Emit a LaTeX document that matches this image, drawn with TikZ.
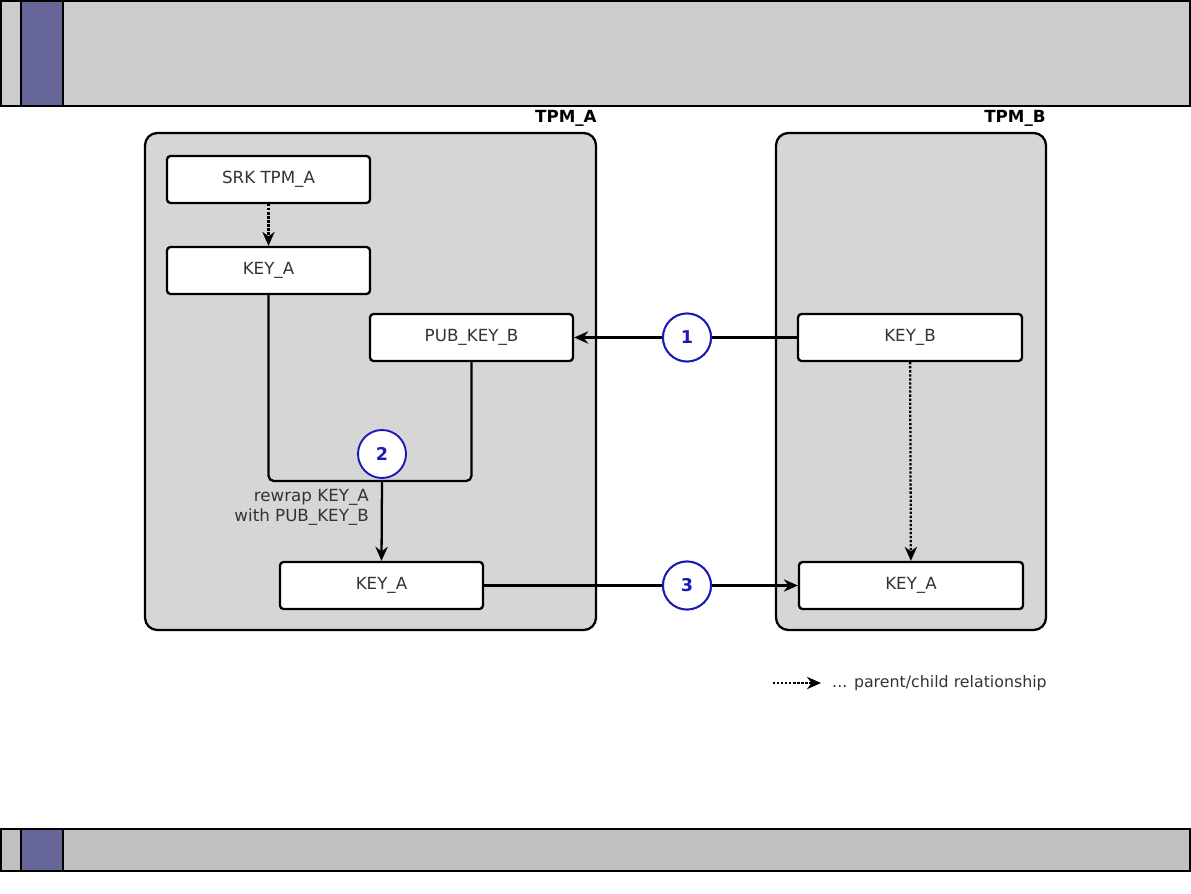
\documentclass[tikz,border=0pt]{standalone}
\usepackage{fontspec}
\setmainfont{DejaVu Sans}
\usepackage{xcolor}
\usetikzlibrary{positioning,arrows.meta}

\definecolor{barGray}{HTML}{CCCCCC}
\definecolor{footGray}{HTML}{C0C0C0}
\definecolor{barPurple}{HTML}{666699}
\definecolor{tpmGray}{HTML}{D6D6D6}
\definecolor{stepBlue}{HTML}{1A1AB8}

\begin{document}
\begin{tikzpicture}[
  font=\fontsize{9.5}{11.5}\selectfont,
  tpm/.style={draw, line width=1.3pt, fill=tpmGray, rounded corners=7pt},
  keybox/.style={draw, rectangle, line width=1.3pt, fill=white, rounded corners=2pt,
    minimum width=4.06cm, minimum height=0.94cm, text=black!80},
  wide/.style={keybox, minimum width=4.48cm},
  num/.style={draw=stepBlue, circle, line width=1.1pt, fill=white, minimum size=0.96cm,
    inner sep=0pt, text=stepBlue, font=\fontsize{10}{12}\selectfont\bfseries},
  tpmlabel/.style={anchor=east, inner sep=0pt, font=\fontsize{9.5}{11.5}\selectfont\bfseries},
  link/.style={line width=1.3pt, -{Stealth[length=8pt,width=7pt]}},
  parent/.style={link, densely dotted}
]
\useasboundingbox (0,0) rectangle (23.82,17.86);

% Header and footer bars
\draw[line width=0.8pt, fill=barGray] (0.02,17.84) rectangle (23.8,15.74);
\draw[line width=0.8pt, fill=barPurple] (0.42,17.84) rectangle (1.26,15.74);
\draw[line width=0.8pt, fill=footGray] (0.02,1.28) rectangle (23.8,0.44);
\draw[line width=0.8pt, fill=barPurple] (0.42,1.28) rectangle (1.26,0.44);

% TPM containers
\draw[tpm] (2.9,5.26) rectangle (11.92,15.2);
\node[tpmlabel] (tpmA) at (11.94,15.5) {TPM\_A};
\draw[tpm] (15.52,5.26) rectangle (20.92,15.2);
\node[tpmlabel] (tpmB) at (20.92,15.5) {TPM\_B};

% Keys in TPM_A
\node[keybox] (srk) at (5.37,14.27) {SRK TPM\_A};
\node[keybox] (ka) at (5.37,12.45) {KEY\_A};
\node[keybox] (pkb) at (9.43,11.11) {PUB\_KEY\_B};
\node[keybox] (kab) at (7.63,6.15) {KEY\_A};

% Keys in TPM_B
\node[wide] (kb) at (18.2,11.11) {KEY\_B};
\node[wide] (kbr) at (18.22,6.15) {KEY\_A};

% Step markers
\node[num] (c1) at (13.74,11.11) {1};
\node[num] (c3) at (13.74,6.15) {3};
\coordinate (merge) at (7.64,8.24);

% Parent/child
\draw[parent] (srk) -- (ka);
\draw[parent] (kb) -- (kbr);

% Rewrap
\draw[line width=1.3pt, rounded corners=3pt] (ka.south) |- (merge);
\draw[line width=1.3pt, rounded corners=3pt] (pkb.south) |- (merge);
\draw[link] (merge) -- (kab.north);
\node[num] (c2) at (7.64,8.78) {2};
\node[anchor=east, align=right, text=black!80] (rewrap) at (7.5,7.72) {rewrap KEY\_A\\with PUB\_KEY\_B};

% Transfers
\draw[link] (kb.west) -- (pkb.east);
\draw[link] (kab.east) -- (kbr.west);
\node[num] at (c1) {1};
\node[num] at (c3) {3};

% Legend
\coordinate (lgA) at (15.46,4.2);
\coordinate (lgB) at (16.42,4.2);
\draw[parent] (lgA) -- (lgB);
\node[anchor=west, text=black!80, font=\fontsize{9}{11}\selectfont] (legend) at (16.52,4.2) {... parent/child relationship};

\end{tikzpicture}
\end{document}
